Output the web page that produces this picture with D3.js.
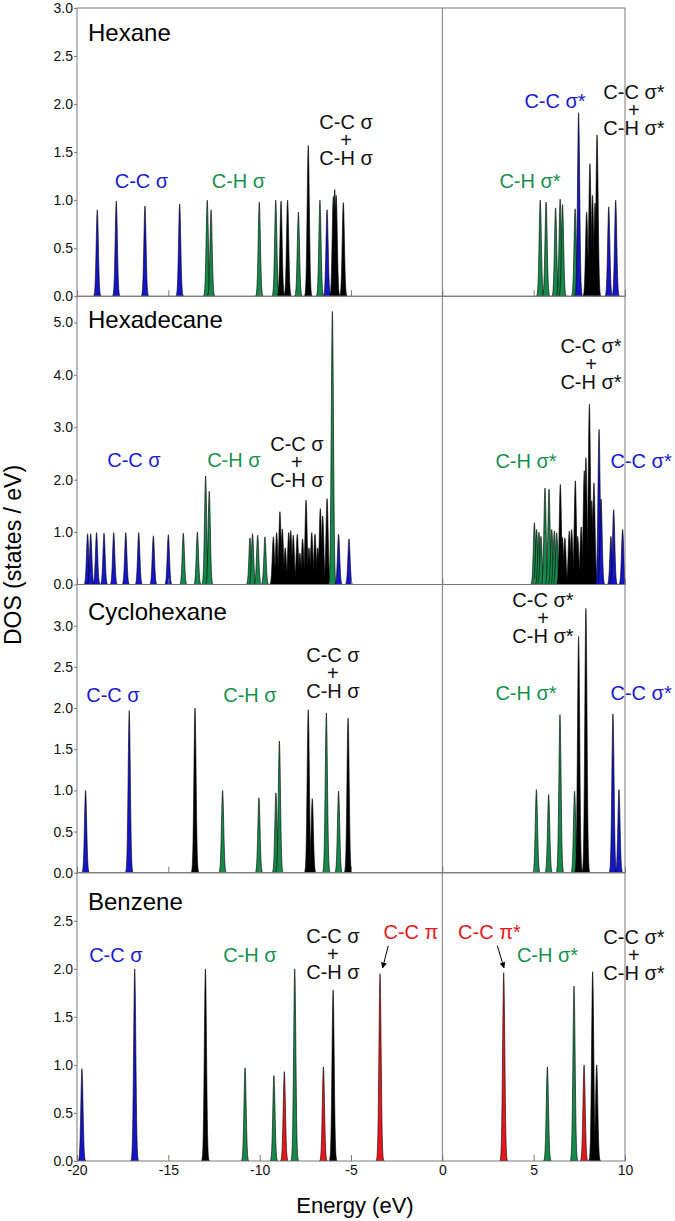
<!DOCTYPE html>
<html>
<head>
<meta charset="utf-8">
<script src="https://cdn.jsdelivr.net/npm/d3@7"></script>
<style>
  html, body { margin: 0; padding: 0; background: #fff; }
  svg { display: block; font-family: "Liberation Sans", Arial, sans-serif; }
</style>
</head>
<body>
<svg id="chart" width="675" height="1221"></svg>
<script>
// ---------------- DATA ----------------
// Energy axis
const energyDomain = [-20, 10];
const energyTicks = [-20, -15, -10, -5, 0, 5, 10];

// Panel names and DOS axis ranges
const molecules = ["Hexane", "Hexadecane", "Cyclohexane", "Benzene"];
const dosMax = [3, 5.5, 3.5, 3];
const dosTicks = [
  [0, 0.5, 1.0, 1.5, 2.0, 2.5, 3.0],
  [0, 1, 2, 3, 4, 5],
  [0, 0.5, 1.0, 1.5, 2.0, 2.5, 3.0],
  [0, 0.5, 1.0, 1.5, 2.0, 2.5]
];

// Peaks: [energy (eV), DOS (states/eV), character]
// character: cc = C-C sigma, ch = C-H sigma, mix = C-C + C-H, pi = C-C pi
const hexanePeaks = [
  [-18.89, 0.90, "cc"], [-17.85, 0.99, "cc"], [-16.28, 0.94, "cc"], [-14.38, 0.96, "cc"],
  [-12.87, 1.00, "ch"], [-12.66, 0.90, "ch"], [-10.02, 0.98, "ch"], [-9.12, 1.00, "ch"],
  [-8.83, 0.99, "mix"], [-8.47, 1.00, "mix"], [-7.88, 0.875, "ch"], [-7.34, 1.57, "mix"],
  [-6.70, 1.00, "ch"], [-6.31, 0.90, "cc"], [-5.97, 1.04, "mix"], [-5.89, 1.11, "mix"],
  [-5.81, 1.05, "mix"], [-5.42, 0.975, "mix"],
  [5.36, 1.00, "ch"], [5.68, 0.98, "ch"], [6.20, 0.92, "ch"], [6.45, 1.01, "ch"],
  [6.58, 0.955, "ch"], [7.27, 0.91, "ch"], [7.46, 1.91, "cc"],
  [7.90, 0.875, "mix"], [8.08, 1.38, "mix"], [8.22, 1.05, "mix"], [8.36, 0.97, "mix"],
  [8.47, 1.68, "mix"], [9.11, 0.93, "cc"], [9.49, 1.00, "cc"]
];

const hexadecanePeaks = [
  [-19.42, 0.97, "cc"], [-19.25, 0.97, "cc"], [-18.93, 0.99, "cc"], [-18.52, 0.98, "cc"],
  [-17.99, 0.99, "cc"], [-17.33, 0.99, "cc"], [-16.62, 0.99, "cc"], [-15.82, 0.93, "cc"],
  [-15.00, 0.95, "cc"],
  [-14.18, 0.98, "ch"], [-13.41, 1.00, "ch"], [-12.96, 2.07, "ch"], [-12.76, 1.78, "ch"],
  [-10.53, 0.89, "ch"], [-10.39, 0.97, "ch"], [-10.11, 0.94, "ch"], [-9.71, 0.91, "ch"],
  [-9.25, 0.91, "mix"], [-9.07, 0.99, "mix"], [-8.89, 1.39, "mix"], [-8.76, 1.06, "mix"],
  [-8.60, 0.70, "mix"], [-8.41, 0.99, "mix"], [-8.30, 1.03, "mix"], [-8.16, 0.94, "mix"],
  [-7.94, 0.96, "mix"], [-7.80, 0.60, "mix"], [-7.65, 0.87, "mix"], [-7.46, 1.61, "mix"],
  [-7.30, 0.70, "mix"], [-7.15, 0.99, "mix"], [-6.97, 0.96, "mix"], [-6.82, 0.70, "mix"],
  [-6.68, 1.45, "mix"], [-6.55, 1.31, "mix"], [-6.31, 1.64, "mix"],
  [-6.02, 5.21, "ch"], [-5.68, 0.96, "cc"], [-5.11, 0.87, "cc"],
  [5.04, 1.18, "ch"], [5.16, 1.05, "ch"], [5.29, 1.00, "ch"], [5.40, 0.92, "ch"],
  [5.62, 1.84, "ch"], [5.84, 1.82, "ch"], [5.99, 1.05, "ch"], [6.13, 1.02, "ch"],
  [6.26, 0.99, "ch"],
  [6.46, 1.91, "mix"], [6.57, 0.90, "mix"], [6.71, 0.89, "mix"], [6.95, 1.02, "mix"],
  [7.08, 1.05, "mix"], [7.28, 1.98, "mix"], [7.41, 0.92, "mix"], [7.60, 1.10, "mix"],
  [7.77, 2.17, "mix"], [7.86, 2.42, "mix"], [8.05, 3.44, "mix"], [8.18, 1.60, "mix"],
  [8.30, 1.94, "mix"],
  [8.58, 2.96, "cc"], [8.69, 1.63, "cc"], [9.23, 0.92, "cc"], [9.38, 1.43, "cc"],
  [9.87, 1.05, "cc"]
];

const cyclohexanePeaks = [
  [-19.53, 1.00, "cc"], [-17.14, 1.97, "cc"], [-13.54, 2.00, "mix"],
  [-12.03, 1.00, "ch"], [-10.04, 0.91, "ch"], [-9.11, 0.97, "ch"], [-8.92, 1.60, "ch"],
  [-7.34, 1.98, "mix"], [-7.12, 0.90, "mix"], [-6.35, 1.94, "ch"], [-5.68, 0.99, "ch"],
  [-5.16, 1.88, "mix"],
  [5.15, 1.01, "ch"], [5.82, 0.95, "ch"], [6.44, 1.92, "ch"], [7.24, 0.99, "ch"],
  [7.46, 2.87, "mix"], [7.86, 3.21, "mix"], [9.34, 1.93, "cc"], [9.67, 1.01, "cc"]
];

const benzenePeaks = [
  [-19.73, 0.96, "cc"], [-16.84, 2.00, "cc"], [-12.97, 2.00, "mix"],
  [-10.80, 0.97, "ch"], [-9.22, 0.89, "ch"], [-8.65, 0.93, "pi"], [-8.08, 2.00, "ch"],
  [-6.51, 0.98, "pi"], [-5.98, 1.78, "mix"], [-3.41, 1.95, "pi"],
  [3.36, 1.96, "pi"], [5.75, 0.98, "ch"], [7.21, 1.82, "ch"], [7.76, 1.00, "pi"],
  [8.23, 1.97, "mix"], [8.45, 1.00, "mix"]
];

const panelPeaks = [hexanePeaks, hexadecanePeaks, cyclohexanePeaks, benzenePeaks];

// Band labels: [panel, energy of centre, text lines, character]
const bandLabels = [
  [0, -16.47, ["C-C σ"], "cc"], [0, -11.16, ["C-H σ"], "ch"],
  [0, -5.27, ["C-C σ", "+", "C-H σ"], "mix"],
  [0, 6.17, ["C-C σ*"], "cc"], [0, 4.80, ["C-H σ*"], "ch"],
  [0, 10.49, ["C-C σ*", "+", "C-H σ*"], "mix"],
  [1, -16.88, ["C-C σ"], "cc"], [1, -11.41, ["C-H σ"], "ch"],
  [1, -7.96, ["C-C σ", "+", "C-H σ"], "mix"],
  [1, 8.14, ["C-C σ*", "+", "C-H σ*"], "mix"],
  [1, 4.58, ["C-H σ*"], "ch"], [1, 10.88, ["C-C σ*"], "cc"],
  [2, -18.03, ["C-C σ"], "cc"], [2, -10.53, ["C-H σ"], "ch"],
  [2, -5.99, ["C-C σ", "+", "C-H σ"], "mix"],
  [2, 5.51, ["C-C σ*", "+", "C-H σ*"], "mix"],
  [2, 4.58, ["C-H σ*"], "ch"], [2, 10.88, ["C-C σ*"], "cc"],
  [3, -17.87, ["C-C σ"], "cc"], [3, -10.53, ["C-H σ"], "ch"],
  [3, -5.99, ["C-C σ", "+", "C-H σ"], "mix"],
  [3, -1.72, ["C-C π"], "pi"], [3, 2.58, ["C-C π*"], "pi"],
  [3, 5.76, ["C-H σ*"], "ch"],
  [3, 10.49, ["C-C σ*", "+", "C-H σ*"], "mix"]
];
// Baseline of first line for each label (px below the panel top), same order
const bandLabelDy = [180, 180, 121, 100, 180, 91,
                     171, 171, 154.5, 57, 172, 172,
                     117, 117, 77, 22, 115.5, 115.5,
                     89, 89, 70, 66.5, 66.5, 89, 71.5];

// Arrows in the Benzene panel: [fromEnergy, fromDOS, toEnergy, toDOS]
const benzeneArrows = [
  [-2.96, 2.24, -3.27, 2.01],
  [3.01, 2.24, 3.375, 2.01]
];

// ---------------- STYLE / LAYOUT ----------------
const colors = { cc: "#1414c8", ch: "#16894a", mix: "#000000", pi: "#e8161c" };
const textColors = { cc: "#1a1ad0", ch: "#17904e", mix: "#111111", pi: "#e8161c" };
const plotLeft = 77, plotRight = 625, plotTop = 8, panelH = 288.25;
const frameColor = "#7a7a7a";
const sigma = 0.06;
const fontStack = "'Liberation Sans', Arial, sans-serif";

const svg = d3.select("#chart");
const x = d3.scaleLinear().domain(energyDomain).range([plotLeft, plotRight]);

const defs = svg.append("defs");
defs.append("marker").attr("id", "arrowHead")
  .attr("viewBox", "0 0 10 10").attr("refX", 9).attr("refY", 5)
  .attr("markerWidth", 6).attr("markerHeight", 6).attr("orient", "auto")
  .attr("markerUnits", "userSpaceOnUse")
  .append("path").attr("d", "M0,0 L10,5 L0,10 z").attr("fill", "#000");

const ks = d3.range(-3.5, 3.5001, 0.25);

molecules.forEach((name, i) => {
  const top = plotTop + i * panelH;
  const bottom = top + panelH;
  const y = d3.scaleLinear().domain([0, dosMax[i]]).range([bottom, top]);
  const g = svg.append("g");

  defs.append("clipPath").attr("id", "clip" + i)
    .append("rect").attr("x", plotLeft).attr("y", top)
    .attr("width", plotRight - plotLeft).attr("height", panelH);

  const peaksG = g.append("g").attr("clip-path", `url(#clip${i})`);
  const line = d3.line().x(d => x(d[0])).y(d => y(d[1]));
  peaksG.selectAll("path").data(panelPeaks[i]).join("path")
    .attr("d", p => {
      const pts = ks.map(k => [p[0] + k * sigma, p[1] * Math.exp(-k * k / 2)]);
      pts.unshift([p[0] - 3.5 * sigma, 0]);
      pts.push([p[0] + 3.5 * sigma, 0]);
      return line(pts) + "Z";
    })
    .attr("fill", p => colors[p[2]])
    .attr("stroke", "#000")
    .attr("stroke-width", 0.6)
    .attr("stroke-linejoin", "round");

  // frame
  g.append("rect").attr("x", plotLeft).attr("y", top)
    .attr("width", plotRight - plotLeft).attr("height", panelH)
    .attr("fill", "none").attr("stroke", frameColor).attr("stroke-width", 1);

  // zero line
  g.append("line").attr("x1", x(0)).attr("x2", x(0)).attr("y1", top).attr("y2", bottom)
    .attr("stroke", frameColor).attr("stroke-width", 1);

  // inner bottom ticks
  const xb = g.append("g").attr("transform", `translate(0,${bottom})`)
    .call(d3.axisBottom(x).tickValues(energyTicks).tickSize(-6).tickFormat(""));
  xb.select(".domain").remove();
  xb.selectAll(".tick line").attr("stroke", frameColor);

  // y axis
  const ya = g.append("g").attr("transform", `translate(${plotLeft},0)`)
    .call(d3.axisLeft(y).tickValues(dosTicks[i]).tickSize(3).tickPadding(1)
      .tickFormat(d3.format(".1f")));
  ya.select(".domain").remove();
  ya.selectAll(".tick line").attr("stroke", frameColor);
  ya.selectAll(".tick text").attr("font-size", 14).attr("fill", "#111")
    .attr("font-family", fontStack);

  // molecule name
  g.append("text").attr("x", 88).attr("y", top + [33, 32, 35, 37][i])
    .attr("font-size", 24).attr("fill", "#000").text(name);

  if (i === molecules.length - 1) {
    const xa = g.append("g").attr("transform", `translate(0,${bottom})`)
      .call(d3.axisBottom(x).tickValues(energyTicks).tickSize(0).tickPadding(4)
        .tickFormat(d3.format("d")));
    xa.select(".domain").remove();
    xa.selectAll(".tick text").attr("font-size", 14).attr("fill", "#111")
      .attr("font-family", fontStack)
      .text(d => d < 0 ? "-" + Math.abs(d) : d);

    benzeneArrows.forEach(a => {
      g.append("line")
        .attr("x1", x(a[0])).attr("y1", y(a[1]))
        .attr("x2", x(a[2])).attr("y2", y(a[3]))
        .attr("stroke", "#000").attr("stroke-width", 1)
        .attr("marker-end", "url(#arrowHead)");
    });
  }
});

// band labels
bandLabels.forEach((lab, j) => {
  const [pi, e, lines, cat] = lab;
  const top = plotTop + pi * panelH;
  const base = top + bandLabelDy[j];
  const t = svg.append("text").attr("text-anchor", "middle")
    .attr("font-size", 20).attr("fill", textColors[cat]);
  lines.forEach((ln, k) => {
    t.append("tspan").attr("x", x(e)).attr("y", base + k * 18).text(ln);
  });
});

// axis titles
svg.append("text").attr("text-anchor", "middle")
  .attr("transform", `translate(21,555) rotate(-90)`)
  .attr("font-size", 23).attr("fill", "#000").text("DOS (states / eV)");
svg.append("text").attr("text-anchor", "middle")
  .attr("x", 355).attr("y", 1213)
  .attr("font-size", 22).attr("fill", "#000").text("Energy (eV)");
</script>
</body>
</html>
